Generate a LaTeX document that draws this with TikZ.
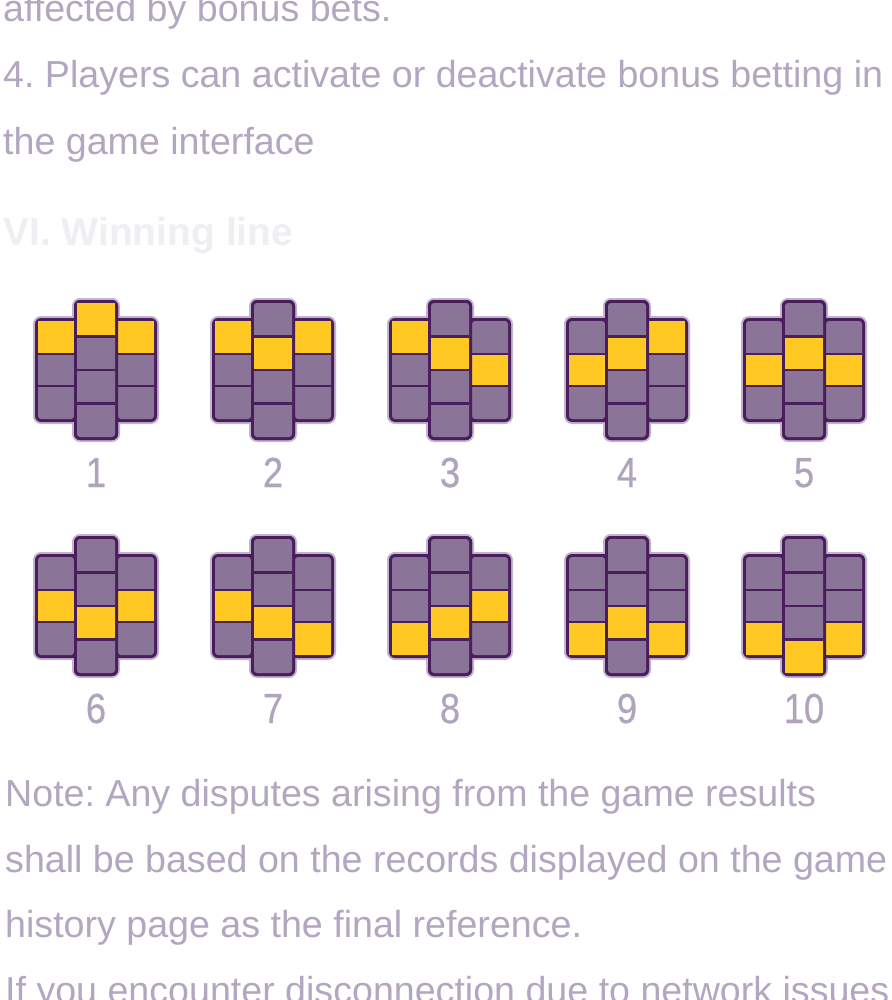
\documentclass[tikz,border=0pt]{standalone}
\usepackage{fontspec}
\setmainfont{Liberation Sans}
\newfontfamily\labfont[FakeStretch=0.86,FakeBold=0.6]{Liberation Sans}
\definecolor{txt}{HTML}{B3A6C1}
\definecolor{head}{HTML}{EFEEF3}
\definecolor{dk}{HTML}{4A1D5C}
\definecolor{cellc}{HTML}{8A7598}
\definecolor{yel}{HTML}{FFC823}
\definecolor{halo}{HTML}{C2B4CE}
\definecolor{labc}{HTML}{B0A4BD}
\frenchspacing
\tikzset{
  body/.style={anchor=base west, inner sep=0pt, text=txt, font=\fontsize{37.6}{46}\selectfont},
  headtxt/.style={anchor=base west, inner sep=0pt, text=head, font=\fontsize{39}{46}\selectfont\bfseries},
  lab/.style={anchor=base, inner sep=0pt, text=labc, font=\labfont\fontsize{42}{46}\selectfont},
  haloline/.style={draw=halo, line width=4pt, rounded corners=6pt},
  divider/.style={draw=dk, line width=2.2pt},
}
\newcommand\wlicon[6]{%
  \begin{scope}[shift={(#1,#2)}]
    \draw[haloline] (-61,0) rectangle (61,104);
    \draw[haloline] (-22,-18) rectangle (22,122);
    \fill[dk, rounded corners=6pt] (-61,0) rectangle (61,104);
    \fill[dk, rounded corners=6pt] (-22,-18) rectangle (22,122);
    % side columns
    \fill[cellc, rounded corners=3pt] (-58,3) rectangle (-22,101);
    \fill[cellc, rounded corners=3pt] (22,3) rectangle (58,101);
    \fill[yel] (-58,{3+#3*32.667}) rectangle (-22,{3+(#3+1)*32.667});
    \fill[yel] (22,{3+#5*32.667}) rectangle (58,{3+(#5+1)*32.667});
    \draw[divider] (-58,35.667) -- (-22,35.667) (-58,68.333) -- (-22,68.333);
    \draw[divider] (22,35.667) -- (58,35.667) (22,68.333) -- (58,68.333);
    % middle column
    \fill[dk, rounded corners=6pt] (-22,-18) rectangle (22,122);
    \fill[cellc, rounded corners=3pt] (-19,-15) rectangle (19,119);
    \fill[yel] (-19,{-15+#4*33.5}) rectangle (19,{-15+(#4+1)*33.5});
    \draw[divider] (-19,18.5) -- (19,18.5) (-19,52) -- (19,52) (-19,85.5) -- (19,85.5);
    \node[lab] (lab#6) at (0,169) {#6};
  \end{scope}}
\begin{document}
\begin{tikzpicture}[x=1pt,y=-1pt]
\useasboundingbox (0,0) rectangle (891,1000);
\fill[white] (0,0) rectangle (891,1000);
\node[body] (t0) at (3,22) {affected by bonus bets.};
\node[body] (t1) at (3,88) {4. Players can activate or deactivate bonus betting in};
\node[body] (t2) at (3,155) {the game interface};
\node[headtxt] (h) at (3,245) {VI. Winning line};
\wlicon{96}{318}{0}{0}{0}{1}
\wlicon{273}{318}{0}{1}{0}{2}
\wlicon{450}{318}{0}{1}{1}{3}
\wlicon{627}{318}{1}{1}{0}{4}
\wlicon{804}{318}{1}{1}{1}{5}
\wlicon{96}{554}{1}{2}{1}{6}
\wlicon{273}{554}{1}{2}{2}{7}
\wlicon{450}{554}{2}{2}{1}{8}
\wlicon{627}{554}{2}{2}{2}{9}
\wlicon{804}{554}{2}{3}{2}{10}
\node[body] (n1) at (5,806) {Note: Any disputes arising from the game results};
\node[body] (n2) at (5,872) {shall be based on the records displayed on the game};
\node[body] (n3) at (5,937) {history page as the final reference.};
\node[body] (n4) at (5,1003) {If you encounter disconnection due to network issues};
\end{tikzpicture}
\end{document}
